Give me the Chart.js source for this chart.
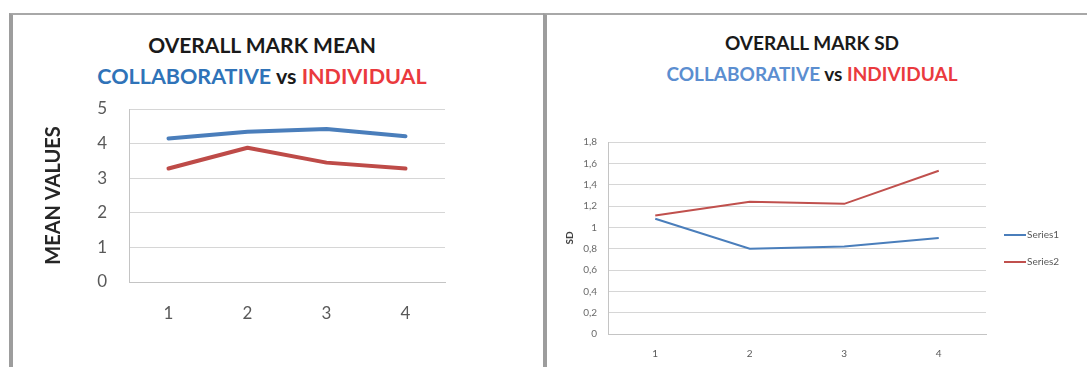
<!DOCTYPE html>
<html>
<head>
<meta charset="utf-8">
<script src="https://cdn.jsdelivr.net/npm/chart.js@4"></script>
<style>
  html, body { margin:0; padding:0; background:#fff; }
  body { width:1087px; height:367px; position:relative; overflow:hidden; font-family:'Lato', sans-serif; }
  .box { position:absolute; border-left:4px solid #9d9d9d; border-top:2px solid #a8a8a8; height:400px; }
  .cv { position:absolute; top:0; }
  .ttl { position:absolute; transform:translateX(-50%); white-space:nowrap; font-weight:bold; line-height:1; }
  .blue1 { color:#2f73b8; }
  .blue2 { color:#5b8ed0; }
  .red { color:#ea3a3e; }
  .blk { color:#1a1a1a; }
</style>
</head>
<body>
<div class="box" style="left:9px; top:13px; width:532px;"></div>
<div class="box" style="left:543px; top:13px; width:560px;"></div>

<div class="ttl blk" style="left:262px; top:34px; font-size:21px;">OVERALL MARK MEAN</div>
<div class="ttl" style="left:262px; top:66px; font-size:21.5px;"><span class="blue1">COLLABORATIVE</span> <span class="blk">vs</span> <span class="red">INDIVIDUAL</span></div>

<div class="ttl blk" style="left:812px; top:33px; font-size:19px;">OVERALL MARK SD</div>
<div class="ttl" style="left:812px; top:64px; font-size:19px;"><span class="blue2">COLLABORATIVE</span> <span class="blk">vs</span> <span class="red">INDIVIDUAL</span></div>

<div class="cv" style="left:0; width:545px; height:367px;"><canvas id="c1"></canvas></div>
<div class="cv" style="left:545px; width:542px; height:367px;"><canvas id="c2"></canvas></div>

<script>
// ---- data ----
const categories = ['1', '2', '3', '4'];
const meanCollaborative = [4.15, 4.34, 4.42, 4.21];
const meanIndividual    = [3.28, 3.88, 3.45, 3.28];
const sdCollaborative   = [1.08, 0.80, 0.82, 0.90];
const sdIndividual      = [1.11, 1.24, 1.22, 1.53];
const seriesNames = ['Series1', 'Series2'];
const meanAxisTitle = 'MEAN VALUES';
const sdAxisTitle = 'SD';

Chart.defaults.font.family = "'Lato', sans-serif";
Chart.defaults.animation = false;
Chart.defaults.responsive = true;
Chart.defaults.maintainAspectRatio = false;

const BLUE = '#4a7ebb', RED = '#be4b48';
const GRID = '#d6d6d6';

new Chart(document.getElementById('c1'), {
  type: 'line',
  data: {
    labels: categories,
    datasets: [
      { label: seriesNames[0], data: meanCollaborative, borderColor: BLUE, borderWidth: 4, pointRadius: 0, tension: 0, borderCapStyle: 'round', borderJoinStyle: 'round' },
      { label: seriesNames[1], data: meanIndividual, borderColor: RED, borderWidth: 4, pointRadius: 0, tension: 0, borderCapStyle: 'round', borderJoinStyle: 'round' }
    ]
  },
  options: {
    layout: { padding: { left: 42, right: 100, top: 109, bottom: 0 } },
    plugins: { legend: { display: false }, tooltip: { enabled: false } },
    scales: {
      x: {
        offset: true,
        grid: { display: true, drawOnChartArea: false, drawTicks: false },
        border: { color: '#c4c4c4', width: 1 },
        ticks: { font: { size: 17 }, color: '#595959', padding: 21 },
        afterFit: s => { s.height = 85; }
      },
      y: {
        min: 0, max: 5,
        ticks: { stepSize: 1, font: { size: 17 }, color: '#595959', padding: 22 },
        grid: { color: GRID, drawTicks: false },
        border: { color: '#c4c4c4', width: 1 },
        title: { display: true, text: meanAxisTitle, font: { size: 20, weight: 'bold' }, color: '#262626', padding: 0 },
        afterFit: s => { s.width = 87; }
      }
    }
  }
});

const sideLegend = {
  id: 'sideLegend',
  afterDraw(chart) {
    const { ctx, chartArea } = chart;
    ctx.save();
    ctx.font = "10px 'Lato', sans-serif";
    ctx.textBaseline = 'middle';
    chart.data.datasets.forEach((ds, i) => {
      const y = chartArea.top + 93 + i * 27;
      const x0 = chartArea.right + 18;
      ctx.strokeStyle = ds.borderColor;
      ctx.lineWidth = 2;
      ctx.beginPath(); ctx.moveTo(x0, y); ctx.lineTo(x0 + 22, y); ctx.stroke();
      ctx.fillStyle = '#595959';
      ctx.fillText(ds.label, x0 + 23, y);
    });
    ctx.restore();
  }
};

new Chart(document.getElementById('c2'), {
  type: 'line',
  data: {
    labels: categories,
    datasets: [
      { label: seriesNames[0], data: sdCollaborative, borderColor: BLUE, borderWidth: 2, pointRadius: 0, tension: 0 },
      { label: seriesNames[1], data: sdIndividual, borderColor: '#c0504d', borderWidth: 2, pointRadius: 0, tension: 0 }
    ]
  },
  plugins: [sideLegend],
  options: {
    layout: { padding: { left: 19, right: 101, top: 142, bottom: 0 } },
    plugins: { legend: { display: false }, tooltip: { enabled: false } },
    scales: {
      x: {
        offset: true,
        grid: { display: true, drawOnChartArea: false, drawTicks: false },
        border: { color: '#c4c4c4', width: 1 },
        ticks: { font: { size: 10 }, color: '#595959', padding: 14 },
        afterFit: s => { s.height = 33; }
      },
      y: {
        min: 0, max: 1.8,
        ticks: {
          stepSize: 0.2, font: { size: 10 }, color: '#6a6a6a', padding: 11,
          callback: v => String(Math.round(v * 10) / 10).replace('.', ',')
        },
        grid: { color: GRID, drawTicks: false },
        border: { color: '#c4c4c4', width: 1 },
        title: { display: true, text: sdAxisTitle, font: { size: 10, weight: 'bold' }, color: '#404040', padding: 0 },
        afterFit: s => { s.width = 44; }
      }
    }
  }
});
</script>
</body>
</html>
